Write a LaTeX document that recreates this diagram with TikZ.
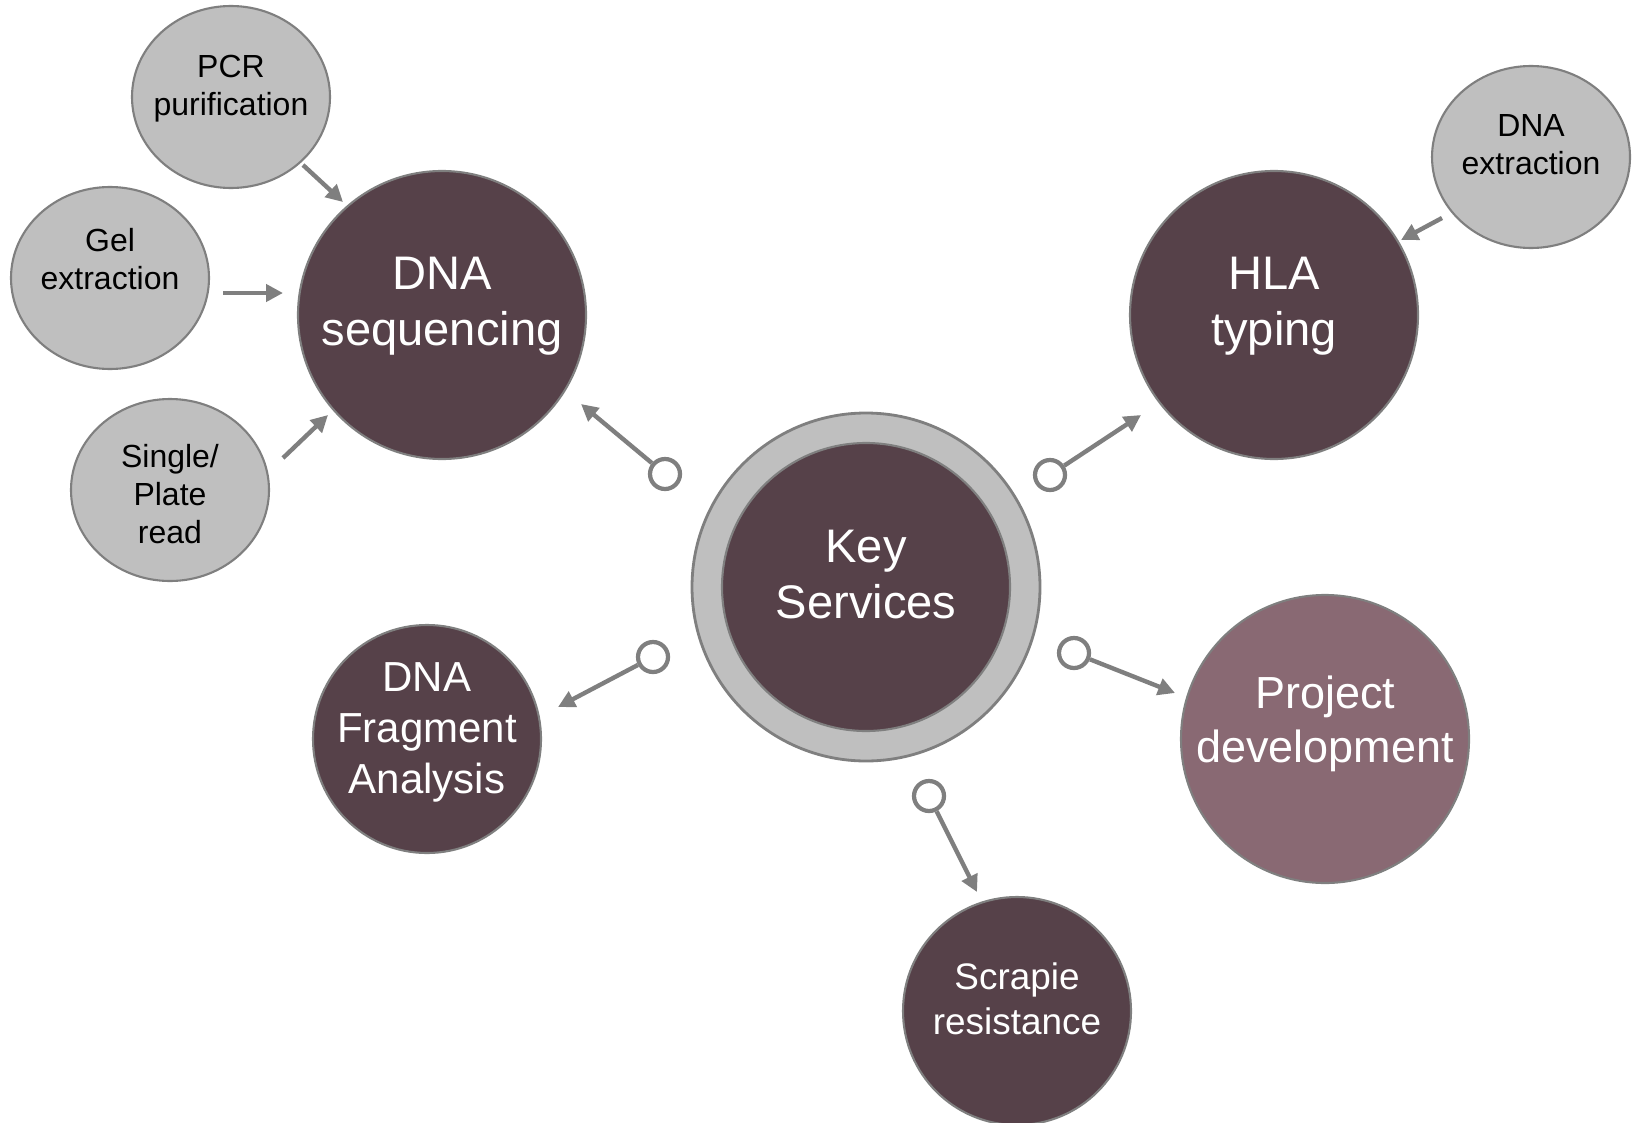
\documentclass[tikz,border=0pt]{standalone}
\usepackage{fontspec}
\setmainfont{Liberation Sans}
\usetikzlibrary{shapes.geometric,arrows.meta}

\definecolor{plum}{HTML}{564149}
\definecolor{rose}{HTML}{896973}
\definecolor{pale}{HTML}{BFBFBF}
\definecolor{rim}{HTML}{7F7F7F}

% text block, lifted by #1, with no width so the shape keeps its size
\newcommand{\disctext}[2]{\makebox[0pt]{\raisebox{#1}[\height][\depth]{\begin{tabular}{@{}c@{}}#2\end{tabular}}}}

\begin{document}
\begin{tikzpicture}[x=0.1mm,y=-0.1mm,
		disc/.style={circle,draw=rim,line width=0.6pt,fill=plum,text=white,inner sep=0pt},
		bigdisc/.style={disc,minimum size=28.8mm,font=\fontsize{13.4}{16.1}\selectfont},
		smalldisc/.style={disc,minimum size=22.8mm},
		ring/.style={circle,draw=rim,line width=0.8pt,fill=pale,minimum size=34.8mm,inner sep=0pt},
		sidenote/.style={ellipse,draw=rim,line width=0.6pt,fill=pale,minimum width=19.8mm,minimum height=18.2mm,inner sep=0pt,font=\fontsize{9.1}{10.8}\selectfont},
		knob/.style={circle,draw=rim,line width=1.2pt,fill=white,minimum size=3mm,inner sep=0pt},
		link/.style={draw=rim,line width=1.25pt,-{Triangle[length=4.8pt,width=4.8pt]}}]
		\useasboundingbox (0,0) rectangle (1636,1122);

		\draw (866,587) node [ring] (ring) {};
		\draw (866,587) node [bigdisc] (key) {\disctext{0.8mm}{Key\\Services}};
		\draw (442,315) node [bigdisc] (seq) {\disctext{0.9mm}{DNA\\sequencing}};
		\draw (1274,315) node [bigdisc] (hla) {\disctext{0.9mm}{HLA\\typing}};
		\draw (1325,739) node [bigdisc,fill=rose,font=\fontsize{12.8}{15.6}\selectfont] (proj) {\disctext{1.45mm}{Project\\development}};
		\draw (427,739) node [smalldisc,font=\fontsize{11.95}{14.4}\selectfont] (frag) {\disctext{0.67mm}{DNA\\Fragment\\Analysis}};
		\draw (1017,1011) node [smalldisc,font=\fontsize{10.5}{12.8}\selectfont] (scrapie) {\disctext{0.85mm}{Scrapie\\resistance}};

		\draw (231,97) node [sidenote] (pcr) {\disctext{0.8mm}{PCR\\purification}};
		\draw (110,278) node [sidenote] (gel) {\disctext{1.5mm}{Gel\\extraction}};
		\draw (170,490) node [sidenote] (plate) {\disctext{-0.76mm}{Single/\\Plate\\read}};
		\draw (1531,157) node [sidenote] (extract) {\disctext{0.9mm}{DNA\\extraction}};

		% knobs round the key node
		\draw (665,474) node [knob] (k-seq) {};
		\draw (1050,475) node [knob] (k-hla) {};
		\draw (653,657) node [knob] (k-frag) {};
		\draw (1074,653) node [knob] (k-proj) {};
		\draw (929,796) node [knob] (k-scrapie) {};

		\coordinate (seq-in) at (581,404);
		\coordinate (hla-in) at (1141,415);
		\coordinate (frag-in) at (558,707);
		\coordinate (proj-in) at (1175,693);
		\coordinate (scrapie-in) at (977,892);

		\coordinate (pcr-out) at (303,165);
		\coordinate (pcr-in) at (343,202);
		\coordinate (gel-out) at (223,293);
		\coordinate (gel-in) at (283,293);
		\coordinate (plate-out) at (283,458);
		\coordinate (plate-in) at (328,415);
		\coordinate (extract-out) at (1442,218);
		\coordinate (extract-in) at (1401,240);

		\draw [link] (k-seq) -- (seq-in);
		\draw [link] (k-hla) -- (hla-in);
		\draw [link] (k-frag) -- (frag-in);
		\draw [link] (k-proj) -- (proj-in);
		\draw [link] (k-scrapie) -- (scrapie-in);

		\draw [link] (pcr-out) -- (pcr-in);
		\draw [link] (gel-out) -- (gel-in);
		\draw [link] (plate-out) -- (plate-in);
		\draw [link] (extract-out) -- (extract-in);
\end{tikzpicture}
\end{document}
